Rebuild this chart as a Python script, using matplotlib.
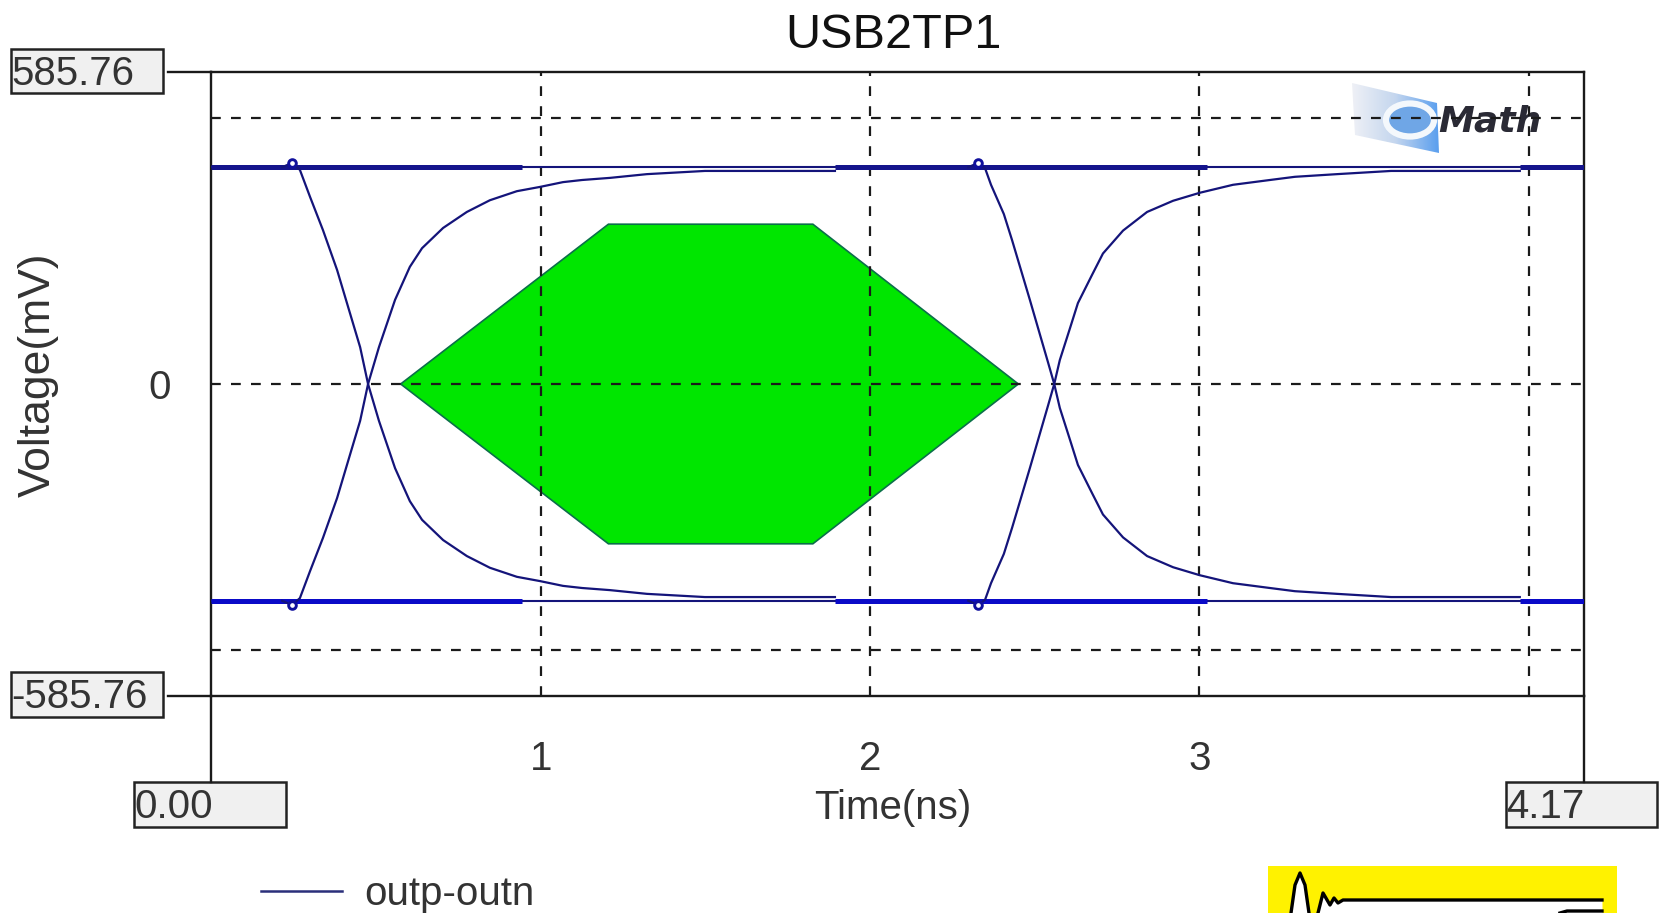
"""
USB2TP1 eye diagram
"""

import numpy as np
import matplotlib
matplotlib.use('Agg')
import matplotlib.pyplot as plt
from matplotlib.patches import Polygon, Rectangle, Ellipse

plt.rcParams['font.family'] = ['Liberation Sans', 'DejaVu Sans']

# values
x_max = 4.17
y_max = 585.76
x_ticks = [1.002, 2.002, 3.002, 4.002]
x_tick_labels = ['1', '2', '3', '']
y_ticks = [-500, 0, 500]
y_tick_labels = ['', '0', '']

rail_mv = 407
rail_thick_start = [0.0, 1.895, 3.975]
rail_thick_end = [0.945, 3.025, 4.17]

# transition traces, the opposite edge mirrors them around 0 mV
edge1_t = [0.216, 0.246, 0.270, 0.301, 0.340, 0.383, 0.410, 0.453, 0.477, 0.510, 0.559,
           0.604, 0.641, 0.705, 0.777, 0.847, 0.929, 0.999, 1.069, 1.127, 1.212, 1.324, 1.500, 1.895]
edge1_mv = [407, 415, 402, 351, 289, 214, 158, 69, 0, -69, -158,
            -220, -255, -293, -323, -345, -362, -370, -379, -383, -387, -394, -400, -400]
edge2_t = [2.300, 2.330, 2.351, 2.369, 2.408, 2.433, 2.460, 2.487, 2.518, 2.542, 2.561, 2.578,
           2.609, 2.633, 2.676, 2.709, 2.770, 2.843, 2.922, 3.003, 3.104, 3.216, 3.292, 3.420, 3.584, 3.975]
edge2_mv = [407, 415, 405, 374, 319, 270, 214, 158, 92, 41, 0, -45,
            -105, -152, -205, -245, -288, -323, -344, -359, -374, -383, -389, -394, -400, -400]

eye_t = [0.576, 1.207, 1.828, 2.452, 1.828, 1.207]
eye_mv = [0, 300, 300, 0, -300, -300]

legend_name = 'outp-outn'

W, H = 1661, 913
fig = plt.figure(figsize=(W / 100, H / 100), dpi=100, facecolor='white')
ax = fig.add_axes([211 / W, (H - 696) / H, 1373 / W, 624 / H], zorder=2)
ax.patch.set_visible(False)
ax.set_xlim(0, x_max)
ax.set_ylim(-y_max, y_max)

ax.add_patch(Polygon(np.column_stack([eye_t, eye_mv]), closed=True, facecolor='#00e600',
                     edgecolor='#0b6f4a', lw=1.2, zorder=1))

ax.set_xticks(x_ticks)
ax.set_xticklabels(x_tick_labels, fontsize=29, color='#333333')
ax.set_yticks(y_ticks)
ax.set_yticklabels(y_tick_labels, fontsize=29, color='#333333')
ax.tick_params(axis='x', length=0, pad=32)
ax.tick_params(axis='y', length=0, pad=29)
ax.set_axisbelow(False)
ax.grid(True, color='#1a1a1a', lw=1.6, linestyle=(0, (4.4, 4.6)), zorder=2)
for s in ax.spines.values():
    s.set_linewidth(1.7)
    s.set_color('#1a1a1a')

navy = '#14147a'
rail_colors = {1: '#14148c', -1: '#0a0ac8'}
for sign in [1, -1]:
    ax.axhline(sign * rail_mv, color=navy, lw=1.5, zorder=3)
    ax.hlines([sign * rail_mv] * 3, rail_thick_start, rail_thick_end, color=rail_colors[sign], lw=3.6, zorder=3)
    for t, v in [(edge1_t, edge1_mv), (edge2_t, edge2_mv)]:
        ax.plot(t, sign * np.array(v), color=navy, lw=1.6, zorder=4,
                marker='o', markevery=[1], ms=5.5, mfc='white', mec='#10109c', mew=2.1)

# everything around the plot area, in picture pixels, under the plot axes
ov = fig.add_axes([0, 0, 1, 1], zorder=1)
ov.axis('off')

ov.plot([168, 211], [72, 72], color='#1a1a1a', lw=1.7)
ov.plot([168, 211], [696, 696], color='#1a1a1a', lw=1.7)
ov.plot([211, 211], [696, 782], color='#1a1a1a', lw=1.7)
ov.plot([1584, 1584], [696, 782], color='#1a1a1a', lw=1.7)

boxes = [(11, 49, 152, 44, '585.76'), (11, 672, 152, 45, '-585.76'),
         (134, 782, 152, 45, '0.00'), (1506, 782, 151, 45, '4.17')]
for bx, by, bw, bh, label in boxes:
    ov.add_patch(Rectangle((bx, by), bw, bh, facecolor='#f0f0f0', edgecolor='#222222', lw=1.8))
    ov.text(bx, by + bh / 2 + 3, label, fontsize=29, color='#333333', ha='left', va='center')

ov.text(893, 35, 'USB2TP1', fontsize=35, color='#111111', ha='center', va='center')
ov.text(893, 808, 'Time(ns)', fontsize=29, color='#333333', ha='center', va='center')
ov.text(38, 375, 'Voltage(mV)', fontsize=32, color='#333333', rotation=90, ha='center', va='center')

# legend
ov.plot([261, 342], [891, 891], color='#2a2f7a', lw=1.8)
ov.text(364, 894, legend_name, fontsize=29, color='#333333', ha='left', va='center')

# logo top right
grad = np.linspace(0, 1, 64).reshape(1, -1)
logo_cmap = matplotlib.colors.LinearSegmentedColormap.from_list('logo', ['#eef0f6', '#c4d6ee', '#5b9fee'])
im = ov.imshow(grad, extent=(1352, 1439, 153, 83), cmap=logo_cmap, aspect='auto', zorder=1)
clip = Polygon([(1352, 83), (1437, 103), (1439, 153), (1355, 135)], closed=True,
               transform=ov.transData, fc='none', ec='none')
ov.add_patch(clip)
im.set_clip_path(clip)
ov.add_patch(Ellipse((1410, 120), 48, 33, fc='#6fa6e6', ec='#f4f8fc', lw=4.5, zorder=2))
ov.text(1438, 122, 'Math', fontsize=26, fontweight='bold', style='italic',
        family=['DejaVu Sans'], color='#2a2a35', ha='left', va='center', zorder=3)

# yellow badge cut off by the bottom edge
ov.add_patch(Rectangle((1268, 866), 349, 47, facecolor='#fff200', edgecolor='none', zorder=1))
wave_x = [1291, 1295, 1300, 1305, 1309, 1318, 1323, 1330, 1334, 1338, 1343, 1602]
wave_y = [913, 885, 873, 885, 913, 913, 893, 905, 898, 903, 900, 900]
ov.fill_between(wave_x, wave_y, 913, color='white', lw=0, zorder=1.5)
ov.plot(wave_x[:5], wave_y[:5], color='black', lw=2.4, zorder=2)
ov.plot(wave_x[5:], wave_y[5:], color='black', lw=2.4, zorder=2)
ov.plot([1560, 1567, 1602], [913, 911, 911], color='black', lw=2.4, zorder=2)

ov.set_xlim(0, W)
ov.set_ylim(H, 0)

fig.savefig('out.png', dpi=100)
